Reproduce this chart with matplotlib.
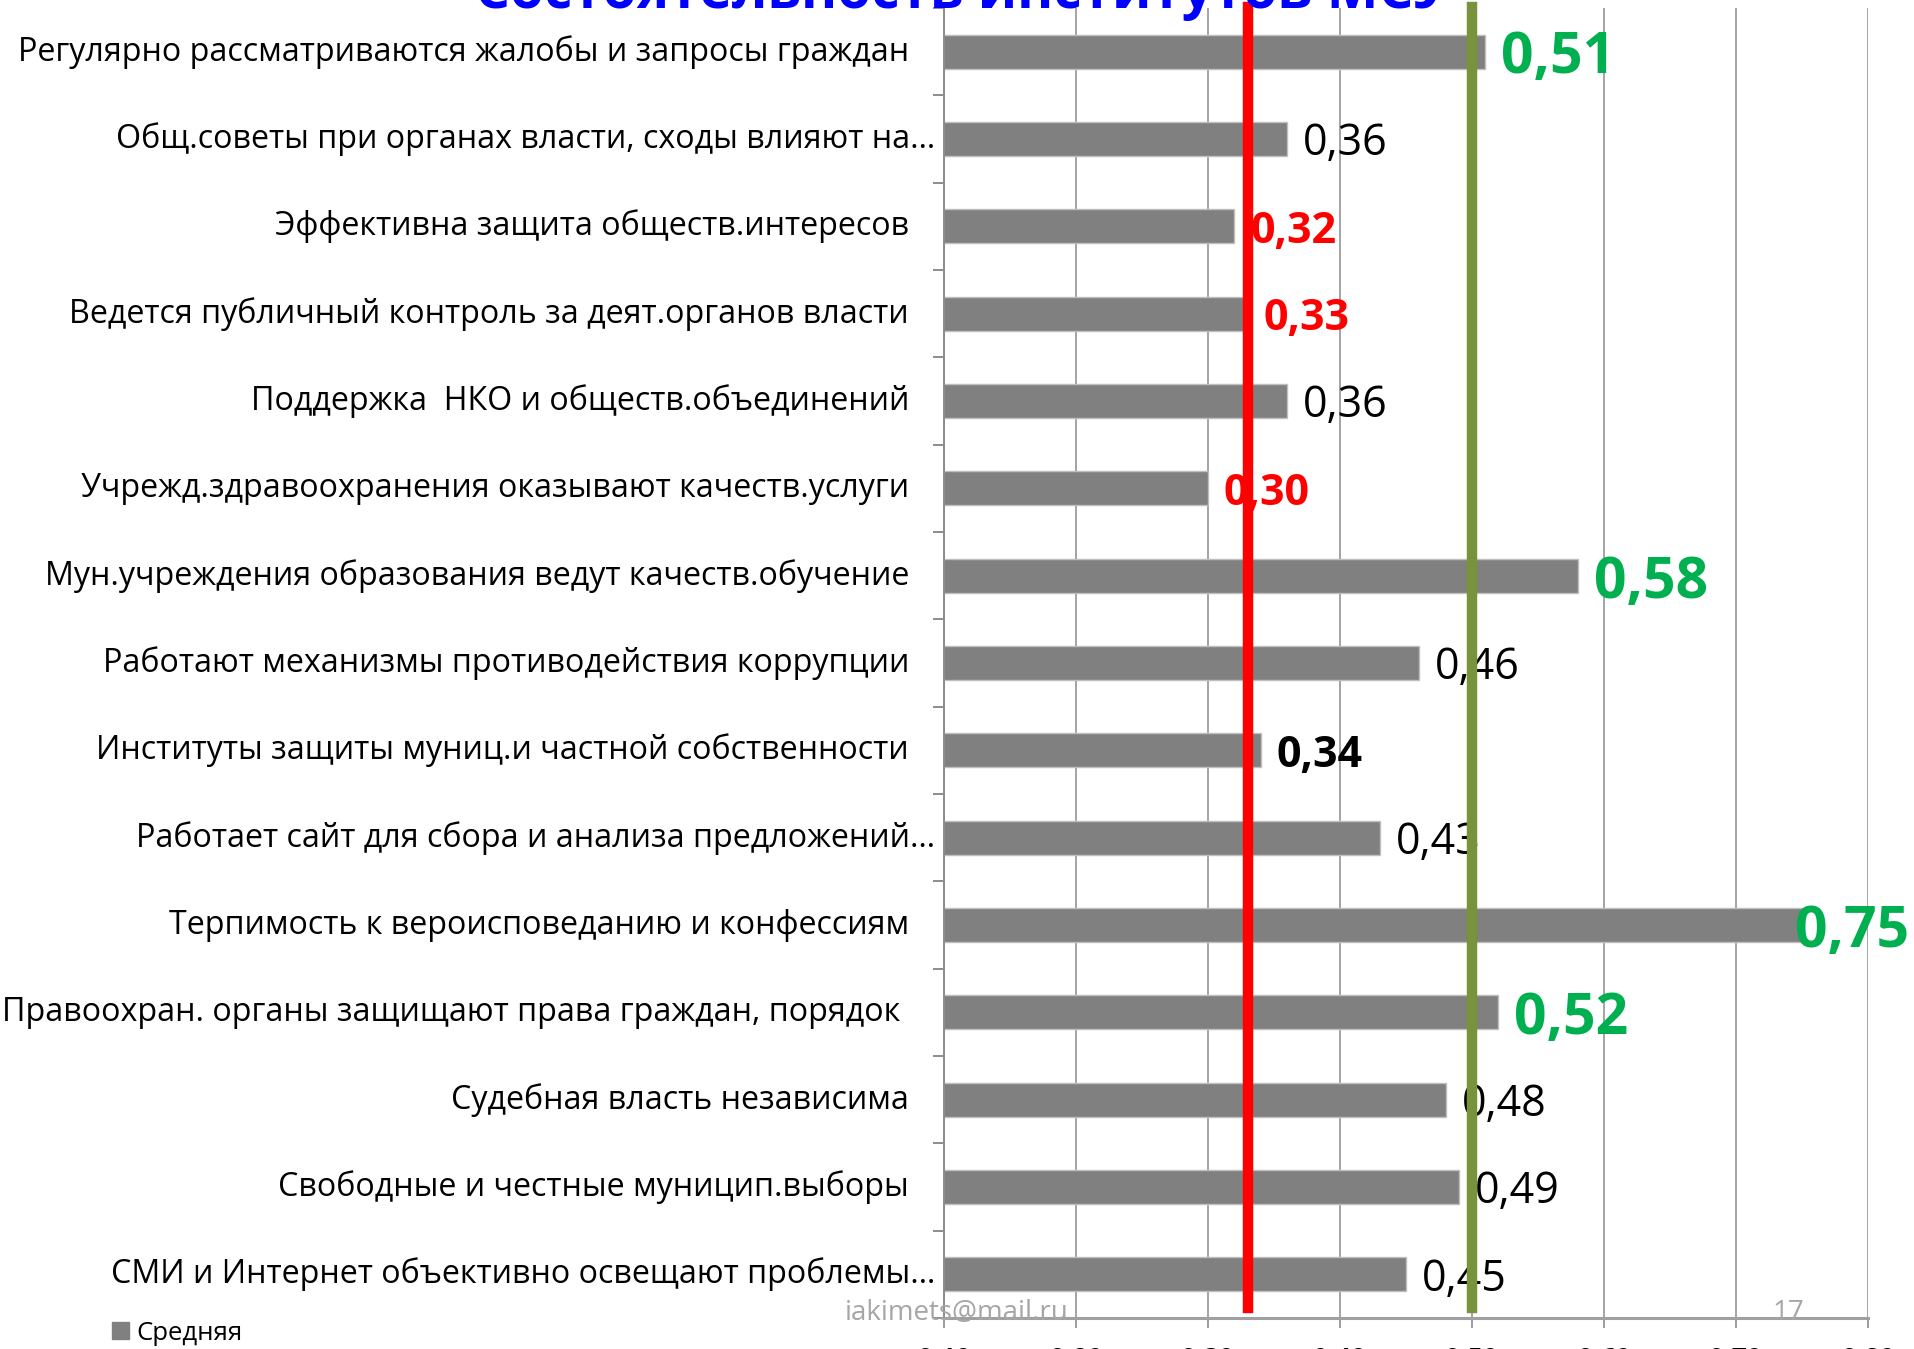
# Состоятельность институтов МСУ - horizontal bar chart
# Average scores per institution, with threshold lines

import matplotlib
matplotlib.use("Agg")
import matplotlib.pyplot as plt
import matplotlib.patches as mpatches
from matplotlib.ticker import FuncFormatter
import numpy as np

plt.rcParams["font.family"] = ["Open Sans", "DejaVu Sans"]

TITLE = "Состоятельность институтов МСУ"
SERIES_NAME = "Средняя"

categories = [
    "Регулярно рассматриваются жалобы и запросы граждан",
    "Общ.советы при органах власти, сходы влияют на…",
    "Эффективна защита обществ.интересов",
    "Ведется публичный контроль за деят.органов власти",
    "Поддержка  НКО и обществ.объединений",
    "Учрежд.здравоохранения оказывают качеств.услуги",
    "Мун.учреждения образования ведут качеств.обучение",
    "Работают механизмы противодействия коррупции",
    "Институты защиты муниц.и частной собственности",
    "Работает сайт для сбора и анализа предложений…",
    "Терпимость к вероисповеданию и конфессиям",
    "Правоохран. органы защищают права граждан, порядок ",
    "Судебная власть независима",
    "Свободные и честные муницип.выборы",
    "СМИ и Интернет объективно освещают проблемы…",
]
values = [0.51, 0.36, 0.32, 0.33, 0.36, 0.30, 0.58, 0.46, 0.34, 0.43,
          0.75, 0.52, 0.48, 0.49, 0.45]

low_line = 0.33    # red reference line
high_line = 0.50   # green reference line
x_ticks = [0.10, 0.20, 0.30, 0.40, 0.50, 0.60, 0.70, 0.80]

FOOTER_MAIL = "iakimets@mail.ru"
FOOTER_PAGE = "17"

COLORS = {
    "bar": "#808080",
    "bar_edge": "#BFBFBF",
    "grid": "#8C8C8C",
    "red": "#FF0000",
    "green_line": "#77933C",
    "green_text": "#00B050",
    "title": "#0000FF",
    "footer": "#A6A6A6",
}

W, H = 1915, 1349
fig = plt.figure(figsize=(W / 100, H / 100), dpi=100)
ax_left, ax_right, ax_top, ax_bot = 944, 1868, 8, 1318
ax = fig.add_axes([ax_left / W, 1 - ax_bot / H,
                   (ax_right - ax_left) / W, (ax_bot - ax_top) / H])

y = np.arange(len(categories))
bars = ax.barh(y, values, height=0.39, color=COLORS["bar"],
               edgecolor=COLORS["bar_edge"], linewidth=1, zorder=2,
               label=SERIES_NAME)

ax.set_xlim(x_ticks[0], x_ticks[-1])
ax.set_ylim(len(categories) - 0.5, -0.5)
ax.set_xticks(x_ticks)
ax.xaxis.set_major_formatter(FuncFormatter(lambda v, p: f"{v:.2f}".replace(".", ",")))
ax.set_yticks(np.arange(-0.5, len(categories), 1))
ax.set_yticklabels([])
ax.grid(axis="x", color=COLORS["grid"], linewidth=1.1, zorder=0)
ax.set_axisbelow(True)

for s in ["top", "right"]:
    ax.spines[s].set_visible(False)
ax.spines["left"].set_color("#8C8C8C")
ax.spines["left"].set_linewidth(1.4)
ax.spines["bottom"].set_color("#A0A0A0")
ax.spines["bottom"].set_linewidth(2.2)
ax.tick_params(axis="y", length=8, width=1.4, color="#8C8C8C")
ax.tick_params(axis="x", length=7, width=1.2, color="#8C8C8C", pad=13,
               labelsize=19)
for lbl in ax.get_xticklabels():
    lbl.set_fontweight("bold")

# category labels, right-aligned left of the axis
px = 1 / (ax_right - ax_left)
for i, name in enumerate(categories):
    gap = 9 if name.endswith("…") else 35
    ax.text(-gap * px, i, name, transform=ax.get_yaxis_transform(),
            ha="right", va="center", fontsize=23.2, color="black")

# value labels
value_texts = []
for i, v in enumerate(values):
    txt = f"{v:.2f}".replace(".", ",")
    if v >= high_line:
        kw = dict(color=COLORS["green_text"], fontweight="bold", fontsize=41)
    elif v <= low_line:
        kw = dict(color=COLORS["red"], fontweight="bold", fontsize=31)
    elif v < 0.35:
        kw = dict(color="black", fontweight="bold", fontsize=31)
    else:
        kw = dict(color="black", fontsize=31)
    dy = -0.12 * kw["fontsize"]
    t = ax.annotate(txt, (v, i), xytext=(11.5, dy), textcoords="offset points",
                    ha="left", va="center", zorder=3, annotation_clip=False, **kw)
    value_texts.append(t)

# reference lines drawn over the labels
line_min = (ax_bot - 1308) / (ax_bot - ax_top)
ax.axvline(low_line, ymin=line_min, ymax=1.001, color=COLORS["red"],
           linewidth=7.5, zorder=5, clip_on=False)
ax.axvline(high_line, ymin=line_min, ymax=1.001, color=COLORS["green_line"],
           linewidth=7.5, zorder=5, clip_on=False)

# title, mostly cut off by the top edge
fig.text(962 / W, 1 - 8 / H, TITLE, ha="center", va="baseline",
         fontsize=39.5, fontweight="bold", color=COLORS["title"])

# slide footer
fig.text(845 / W, 1 - 1313 / H, FOOTER_MAIL, ha="left", va="center",
         fontsize=20, color=COLORS["footer"], zorder=10)
fig.text(1804 / W, 1 - 1313 / H, FOOTER_PAGE, ha="right", va="center",
         fontsize=20, color=COLORS["footer"], zorder=10)

fig.legend(handles=[mpatches.Patch(color=COLORS["bar"])], labels=[SERIES_NAME],
           loc="center left", bbox_to_anchor=(112 / W, 1 - 1333 / H),
           frameon=False, fontsize=18.5, handlelength=0.65, handleheight=0.65,
           handletextpad=0.3, borderpad=0, borderaxespad=0)

# keep value labels inside the chart area, like the original
fig.canvas.draw()
renderer = fig.canvas.get_renderer()
for t in value_texts:
    bb = t.get_window_extent(renderer)
    if bb.x1 > 1909:
        shift = (bb.x1 - 1909) * 72 / 100
        t.xyann = (t.xyann[0] - shift, t.xyann[1])

fig.savefig("out.png", dpi=100)
